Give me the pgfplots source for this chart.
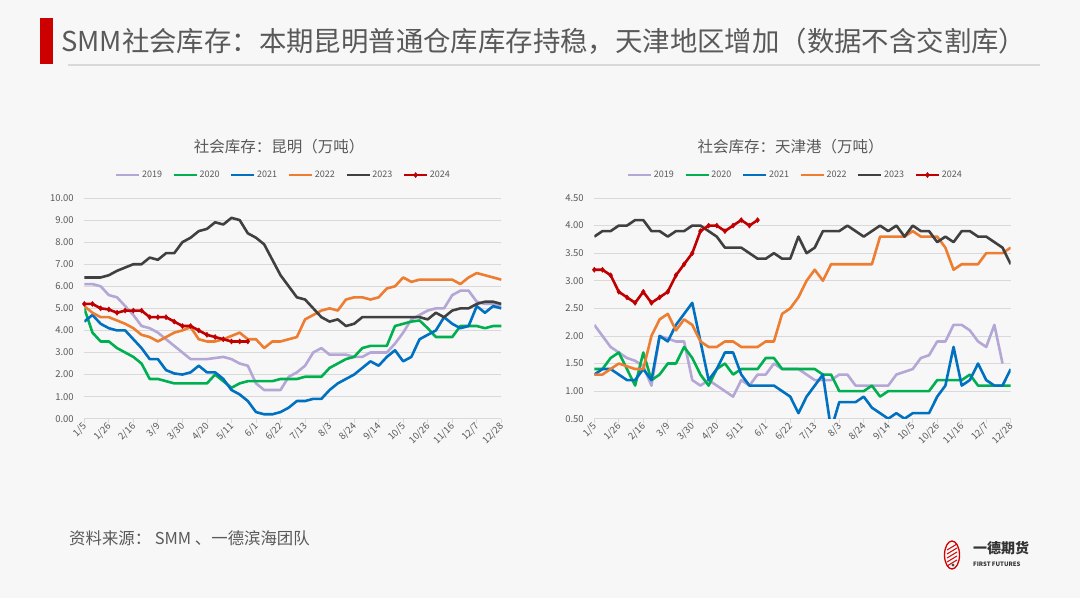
\documentclass[border=0pt]{standalone}
\usepackage{fontspec}
\setmainfont{Noto Sans CJK SC}
\usepackage{pgfplots}
\usepackage{pgfplotstable}
\pgfplotsset{compat=1.18}

\definecolor{bgc}{HTML}{F7F7F7}
\definecolor{txtc}{HTML}{595959}
\definecolor{gridc}{HTML}{D9D9D9}
\definecolor{c19}{HTML}{B4A7D6}
\definecolor{c20}{HTML}{00B050}
\definecolor{c21}{HTML}{0070C0}
\definecolor{c22}{HTML}{ED7D31}
\definecolor{c23}{HTML}{404040}
\definecolor{c24}{HTML}{C00000}

% weekly data, week index 0 = 1/5 ... 51 = 12/28
\pgfplotstableread{
i  y19  y20  y21  y22  y23  y24
0  6.1  5.0  4.4  5.1  6.4  5.2
1  6.1  3.9  4.7  4.8  6.4  5.2
2  6.0  3.5  4.3  4.6  6.4  5.0
3  5.6  3.5  4.1  4.6  6.5  4.95
4  5.5  3.2  4.0  4.45 6.7  4.8
5  5.1  3.0  4.0  4.3  6.85 4.9
6  4.7  2.8  3.6  4.1  7.0  4.9
7  4.2  2.5  3.2  3.8  7.0  4.9
8  4.1  1.8  2.7  3.7  7.3  4.6
9  3.9  1.8  2.7  3.5  7.2  4.6
10 3.6  1.7  2.2  3.7  7.5  4.6
11 3.3  1.6  2.05 3.9  7.5  4.4
12 3.0  1.6  2.0  4.0  8.0  4.2
13 2.7  1.6  2.1  4.15 8.2  4.2
14 2.7  1.6  2.4  3.6  8.5  4.0
15 2.7  1.6  2.1  3.5  8.6  3.8
16 2.75 2.0  2.1  3.5  8.9  3.7
17 2.8  1.7  1.8  3.6  8.8  3.6
18 2.7  1.4  1.3  3.75 9.1  3.5
19 2.5  1.6  1.1  3.9  9.0  3.5
20 2.4  1.7  0.8  3.6  8.4  3.5
21 1.6  1.7  0.3  3.6  8.2  nan
22 1.3  1.7  0.2  3.2  7.9  nan
23 1.3  1.7  0.2  3.5  7.2  nan
24 1.3  1.8  0.3  3.5  6.5  nan
25 1.9  1.8  0.5  3.6  6.0  nan
26 2.1  1.8  0.8  3.7  5.5  nan
27 2.4  1.9  0.8  4.5  5.4  nan
28 3.0  1.9  0.9  4.7  5.0  nan
29 3.2  1.9  0.9  4.9  4.6  nan
30 2.9  2.3  1.3  5.0  4.4  nan
31 2.9  2.5  1.6  4.9  4.5  nan
32 2.9  2.7  1.8  5.4  4.2  nan
33 2.8  2.8  2.0  5.5  4.3  nan
34 2.8  3.2  2.3  5.5  4.6  nan
35 3.0  3.3  2.6  5.4  4.6  nan
36 3.0  3.3  2.4  5.5  4.6  nan
37 3.0  3.3  2.8  5.9  4.6  nan
38 3.4  4.2  3.1  6.0  4.6  nan
39 3.9  4.3  2.6  6.4  4.6  nan
40 4.5  4.4  2.8  6.2  4.6  nan
41 4.7  4.45 3.6  6.3  4.6  nan
42 4.9  4.1  3.8  6.3  4.5  nan
43 5.0  3.7  4.0  6.3  4.8  nan
44 5.0  3.7  4.6  6.3  4.6  nan
45 5.6  3.7  4.3  6.3  4.9  nan
46 5.8  4.2  4.1  6.1  5.0  nan
47 5.8  4.2  4.2  6.4  5.0  nan
48 5.3  4.2  5.1  6.6  5.2  nan
49 5.2  4.1  4.8  6.5  5.3  nan
50 5.2  4.2  5.1  6.4  5.3  nan
51 5.1  4.2  5.0  6.3  5.2  nan
}\kunming

\pgfplotstableread{
i  y19  y20  y21  y22  y23  y24
0  2.2  1.4  1.3  1.3  3.8  3.2
1  2.0  1.4  1.4  1.3  3.9  3.2
2  1.8  1.6  1.4  1.4  3.9  3.1
3  1.7  1.7  1.3  1.5  4.0  2.8
4  1.6  1.4  1.2  1.45 4.0  2.7
5  1.55 1.1  1.2  1.4  4.1  2.6
6  1.45 1.7  1.4  1.4  4.1  2.8
7  1.1  1.2  1.2  2.0  3.9  2.6
8  2.0  1.3  2.0  2.3  3.9  2.7
9  1.95 1.5  1.9  2.4  3.8  2.8
10 1.9  1.5  2.2  2.1  3.9  3.1
11 1.9  1.8  2.4  2.3  3.9  3.3
12 1.2  1.6  2.6  2.2  4.0  3.5
13 1.1  1.3  1.9  1.9  4.0  3.9
14 1.2  1.1  1.2  1.8  3.9  4.0
15 1.1  1.4  1.4  1.8  3.8  4.0
16 1.0  1.5  1.7  1.9  3.6  3.9
17 0.9  1.3  1.7  1.9  3.6  4.0
18 1.2  1.4  1.3  1.8  3.6  4.1
19 1.1  1.4  1.1  1.8  3.5  4.0
20 1.3  1.4  1.1  1.8  3.4  4.1
21 1.3  1.6  1.1  1.9  3.4  nan
22 1.5  1.6  1.1  1.9  3.5  nan
23 1.4  1.4  1.0  2.4  3.4  nan
24 1.4  1.4  0.9  2.5  3.4  nan
25 1.4  1.4  0.6  2.7  3.8  nan
26 1.3  1.4  0.9  3.0  3.5  nan
27 1.2  1.4  1.1  3.2  3.6  nan
28 1.2  1.3  1.3  3.0  3.9  nan
29 1.2  1.3  0.3  3.3  3.9  nan
30 1.3  1.0  0.8  3.3  3.9  nan
31 1.3  1.0  0.8  3.3  4.0  nan
32 1.1  1.0  0.8  3.3  3.9  nan
33 1.1  1.0  0.9  3.3  3.8  nan
34 1.1  1.1  0.7  3.3  3.9  nan
35 1.1  0.9  0.6  3.8  4.0  nan
36 1.1  1.0  0.5  3.8  3.9  nan
37 1.3  1.0  0.6  3.8  4.0  nan
38 1.35 1.0  0.5  3.8  3.8  nan
39 1.4  1.0  0.6  3.9  4.0  nan
40 1.6  1.0  0.6  3.8  3.9  nan
41 1.65 1.0  0.6  3.8  3.9  nan
42 1.9  1.2  0.9  3.8  3.7  nan
43 1.9  1.2  1.1  3.6  3.8  nan
44 2.2  1.2  1.8  3.2  3.7  nan
45 2.2  1.2  1.1  3.3  3.9  nan
46 2.1  1.3  1.2  3.3  3.9  nan
47 1.9  1.1  1.5  3.3  3.8  nan
48 1.8  1.1  1.2  3.5  3.8  nan
49 2.2  1.1  1.1  3.5  3.7  nan
50 1.5  1.1  1.1  3.5  3.6  nan
51 nan  1.1  1.4  3.6  3.3  nan
}\tianjin

\pgfplotsset{
  legend image code/.code={%
    \draw[mark repeat=2,mark phase=2,#1] plot coordinates {(0pt,0pt) (11.5pt,0pt) (23pt,0pt)};},
  panel/.style={
    scale only axis,
    width=417pt, height=220.7pt,
    xmin=0, xmax=51,
    xtick={0,3,...,51},
    xticklabels={1/5,1/26,2/16,3/9,3/30,4/20,5/11,6/1,6/22,7/13,8/3,8/24,9/14,10/5,10/26,11/16,12/7,12/28},
    axis x line*=bottom, axis y line*=left,
    y axis line style={draw=none},
    x axis line style={draw=gridc, line width=0.8pt},
    ymajorgrids,
    grid style={draw=gridc, line width=0.8pt},
    tick align=outside,
    major tick length=4pt,
    x tick style={draw=gridc, line width=0.8pt},
    y tick style={draw=none},
    tick label style={font=\fontsize{9.5}{11}\selectfont, text=txtc},
    x tick label style={rotate=45, anchor=east, inner sep=1pt, yshift=-2pt},
    y tick label style={xshift=-3pt},
    yticklabel style={/pgf/number format/.cd, fixed, fixed zerofill, precision=2, assume math mode=true},
    legend columns=6,
    legend style={draw=none, fill=none, font=\fontsize{9}{10}\selectfont, text=txtc,
      /tikz/every even column/.append style={column sep=9pt},
      nodes={inner sep=1.5pt}},
    legend cell align=left,
    every axis plot/.append style={line width=2.6pt, line join=round},
  },
  s19/.style={c19, mark=none}, s20/.style={c20, mark=none}, s21/.style={c21, mark=none},
  s22/.style={c22, mark=none}, s23/.style={c23, mark=none},
  s24/.style={c24, mark=diamond*, mark size=2.6pt, mark options={solid, fill=c24, line width=0.4pt}},
}

\begin{document}
\begin{tikzpicture}[x=1pt,y=1pt]
\useasboundingbox (0,0) rectangle (1080,598);
\fill[bgc] (0,0) rectangle (1080,598);

% header
\fill[c24!80!red] (40,534) rectangle (53,580);
\node[anchor=west, inner sep=0pt, font=\fontsize{27.4}{30}\selectfont, text=txtc] at (61,557)
  {SMM社会库存：本期昆明普通仓库库存持稳，天津地区增加（数据不含交割库）};
\draw[gridc, line width=2pt] (68,533) -- (1040,533);

% chart titles
\node[font=\fontsize{15.5}{18}\selectfont, text=txtc] at (279,451.5) {社会库存：昆明（万吨）};
\node[font=\fontsize{15.5}{18}\selectfont, text=txtc] at (790.5,451.5) {社会库存：天津港（万吨）};

\begin{axis}[panel, at={(84.3pt,179.3pt)}, anchor=south west,
  ymin=0, ymax=10, ytick={0,1,...,10},
  legend style={at={(0.477,1.104)}, anchor=center}]
\addplot[s19] table[x=i, y=y19] {\kunming}; \addlegendentry{2019}
\addplot[s20] table[x=i, y=y20] {\kunming}; \addlegendentry{2020}
\addplot[s21] table[x=i, y=y21] {\kunming}; \addlegendentry{2021}
\addplot[s22] table[x=i, y=y22] {\kunming}; \addlegendentry{2022}
\addplot[s23] table[x=i, y=y23] {\kunming}; \addlegendentry{2023}
\addplot[s24] table[x=i, y=y24] {\kunming}; \addlegendentry{2024}
\end{axis}

\begin{axis}[panel, at={(594.3pt,179.3pt)}, anchor=south west,
  width=416.4pt,
  ymin=0.5, ymax=4.5, ytick={0.5,1,...,4.5},
  legend style={at={(0.482,1.104)}, anchor=center}]
\addplot[s19] table[x=i, y=y19] {\tianjin}; \addlegendentry{2019}
\addplot[s20] table[x=i, y=y20] {\tianjin}; \addlegendentry{2020}
\addplot[s21] table[x=i, y=y21] {\tianjin}; \addlegendentry{2021}
\addplot[s22] table[x=i, y=y22] {\tianjin}; \addlegendentry{2022}
\addplot[s23] table[x=i, y=y23] {\tianjin}; \addlegendentry{2023}
\addplot[s24] table[x=i, y=y24] {\tianjin}; \addlegendentry{2024}
\end{axis}

% footer
\node[anchor=west, inner sep=0pt, font=\fontsize{16.4}{19}\selectfont, text=txtc] at (69,60)
  {资料来源：\ SMM 、一德滨海团队};

% logo
\begin{scope}[shift={(952,43)}]
  \draw[c24!70!red, line width=1.3pt] (0,0) ellipse (7.5pt and 14pt);
  \foreach \k in {-8,-4,0,4,8} {\draw[c24!70!red, line width=1pt] (-5,\k-3) -- (5,\k+3);}
  \fill[black!70] (1,-10) circle (1.6pt);
\end{scope}
\node[anchor=west, inner sep=0pt, font=\bfseries\fontsize{14}{16}\selectfont, text=black!80] at (973,50) {一德期货};
\node[anchor=west, inner sep=0pt, font=\bfseries\fontsize{6}{7}\selectfont, text=black!80] at (973,34) {FIRST FUTURES};
\end{tikzpicture}
\end{document}
